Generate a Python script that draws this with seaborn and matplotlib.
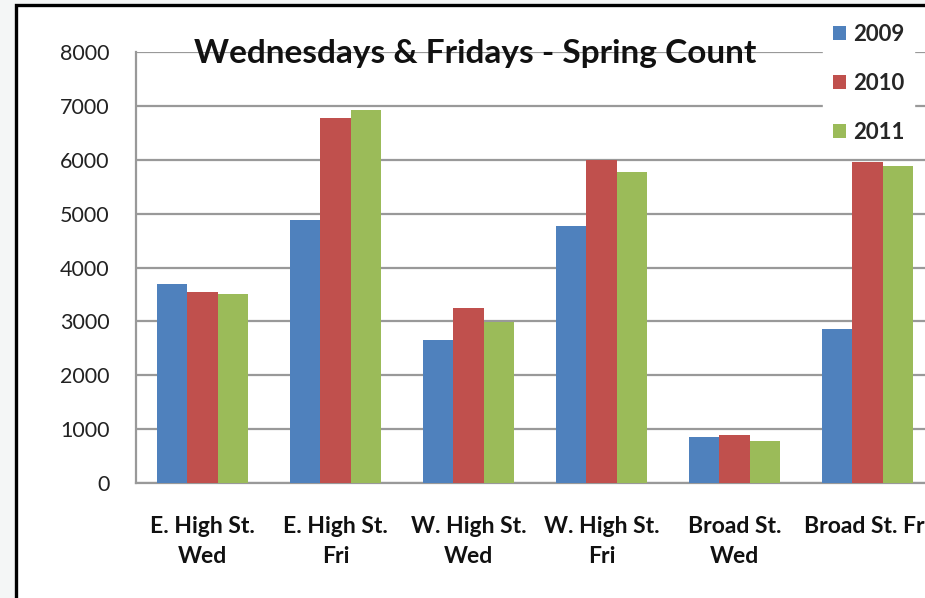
import matplotlib
matplotlib.use("Agg")
import matplotlib.pyplot as plt
import seaborn as sns
import pandas as pd
from matplotlib.patches import Rectangle, Patch

locations = ["E. High St.\nWed", "E. High St.\nFri", "W. High St.\nWed",
             "W. High St.\nFri", "Broad St.\nWed", "Broad St. Fri"]
years = ["2009", "2010", "2011"]
counts_2009 = [3700, 4880, 2650, 4770, 850, 2860]
counts_2010 = [3550, 6770, 3250, 6000, 900, 5950]
counts_2011 = [3500, 6920, 2980, 5770, 780, 5880]
colors = ["#4F81BD", "#C0504D", "#9BBB59"]
yticks = [0, 1000, 2000, 3000, 4000, 5000, 6000, 7000, 8000]

rows = []
for yr, vals in zip(years, [counts_2009, counts_2010, counts_2011]):
    for loc, v in zip(locations, vals):
        rows.append({"location": loc, "year": yr, "count": v})
df = pd.DataFrame(rows)

sns.set_theme(style="white")
plt.rcParams['font.family'] = ['Lato', 'DejaVu Sans']

fig = plt.figure(figsize=(9.25, 5.98), dpi=100)
fig.patch.set_facecolor("#f4f6f6")

# background axes holding the chart frame (cropped on right and bottom)
bg = fig.add_axes([0, 0, 1, 1], zorder=-5)
bg.set_xlim(0, 925)
bg.set_ylim(598, 0)
bg.axis("off")
bg.add_patch(Rectangle((16, 5), 1000, 700, facecolor="white",
                       edgecolor="black", linewidth=2.4))

ax = fig.add_axes([136/925, 115/598, 798/925, 431/598], zorder=1)
ax.set_facecolor("none")
sns.barplot(data=df, x="location", y="count", hue="year", palette=colors,
            width=0.68, saturation=1, ax=ax, legend=False, zorder=3,
            edgecolor="none", linewidth=0)
ax.set_ylim(0, 8000)
ax.set_xlim(-0.5, 5.5)
ax.set_yticks(yticks)
ax.set_yticklabels([str(t) for t in yticks], fontsize=15.5, color="#222222")
ax.yaxis.grid(True, color="#999999", linewidth=1.6, zorder=0)
ax.set_axisbelow(True)
ax.set_xlabel("")
ax.set_ylabel("")
for s in ["top", "right"]:
    ax.spines[s].set_visible(False)
for s in ["left", "bottom"]:
    ax.spines[s].set_color("#999999")
    ax.spines[s].set_linewidth(1.6)
ax.tick_params(axis="y", length=9, width=1.4, color="#999999", direction="out", pad=10)
ax.tick_params(axis="x", which="major", length=0, pad=24)
ax.set_xticks([i - 0.5 for i in range(7)], minor=True)
ax.tick_params(axis="x", which="minor", length=7, width=1.4, color="#999999", direction="out")
for lbl in ax.get_xticklabels():
    lbl.set_fontweight("bold")
    lbl.set_fontsize(16.5)
    lbl.set_color("#111111")
    lbl.set_linespacing(1.5)

fig.text(475/925, 1 - 53/598, "Wednesdays & Fridays - Spring Count",
         ha="center", va="center", fontsize=24, fontweight="bold", color="#111111", zorder=5)

handles = [Patch(facecolor=c, edgecolor="none") for c in colors]
leg = fig.legend(handles, years, loc="upper left", bbox_to_anchor=(823/925, 1 - 14/598),
                 frameon=True, fontsize=16, handlelength=0.6, handleheight=0.6,
                 handletextpad=0.3, labelspacing=1.25, borderpad=0.45, borderaxespad=0)
leg.get_frame().set_facecolor("white")
leg.get_frame().set_edgecolor("white")
leg.get_frame().set_alpha(1)
leg.set_zorder(6)
for t in leg.get_texts():
    t.set_fontweight("bold")

fig.savefig("out.png", dpi=100, facecolor=fig.get_facecolor())
